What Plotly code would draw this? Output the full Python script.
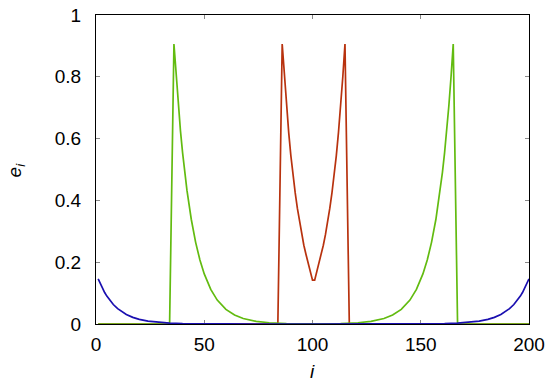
import plotly.graph_objects as go

# Site index values and e_i
blue_i = [1, 2, 3, 4, 5, 6, 8, 10, 12, 14, 17, 20, 24, 28, 34, 40, 50, 60, 100,
          141, 151, 161, 167, 173, 177, 181, 184, 187, 189, 191, 193, 195, 196, 197, 198, 199, 200]
blue_e = [0.146, 0.1295, 0.1149, 0.1019, 0.0903, 0.0801, 0.0631, 0.0496, 0.0390, 0.0307,
          0.0214, 0.0149, 0.0092, 0.0057, 0.0028, 0.0014, 0.0004, 0.0001, 0.0,
          0.0001, 0.0004, 0.0014, 0.0028, 0.0057, 0.0092, 0.0149, 0.0214, 0.0307, 0.0390,
          0.0496, 0.0631, 0.0801, 0.0903, 0.1019, 0.1149, 0.1295, 0.146]

green_i = [1, 34, 36, 37, 38, 39, 40, 41, 42, 44, 46, 48, 50, 53, 56, 60, 64, 68, 74, 80, 88, 100,
           101, 113, 121, 127, 133, 137, 141, 145, 148, 151, 153, 155, 157, 159, 160, 161, 162,
           163, 164, 165, 167, 200]
green_e = [0.0, 0.0, 0.906, 0.801, 0.708, 0.626, 0.554, 0.490, 0.433, 0.339, 0.265, 0.207, 0.162,
           0.112, 0.0774, 0.0474, 0.0289, 0.0177, 0.0085, 0.0040, 0.0015, 0.0004,
           0.0004, 0.0015, 0.0040, 0.0085, 0.0177, 0.0289, 0.0474, 0.0774, 0.112, 0.162, 0.207,
           0.265, 0.339, 0.433, 0.490, 0.554, 0.626, 0.708, 0.801, 0.906, 0.0, 0.0]

red_i = [1, 84, 86, 87, 88, 89, 90, 91, 92, 93, 94, 95, 96, 97, 98, 99, 100,
         101, 102, 103, 104, 105, 106, 107, 108, 109, 110, 111, 112, 113, 114, 115, 117, 200]
red_e = [0.0, 0.0, 0.906, 0.80, 0.705, 0.62, 0.545, 0.48, 0.425, 0.375, 0.33, 0.29, 0.255, 0.225,
         0.195, 0.17, 0.142, 0.142, 0.17, 0.195, 0.225, 0.255, 0.29, 0.33, 0.375, 0.425, 0.48,
         0.545, 0.62, 0.705, 0.80, 0.906, 0.0, 0.0]

x_ticks = [0, 50, 100, 150, 200]
x_tick_text = ["0", "50", "100", "150", "200"]
y_ticks = [0, 0.2, 0.4, 0.6, 0.8, 1]
y_tick_text = ["0", "0.2", "0.4", "0.6", "0.8", "1"]
x_title = "<i>i</i>"
y_title = "<i>e<sub>i</sub></i>"

fig = go.Figure()
fig.add_trace(go.Scatter(x=red_i, y=red_e, mode="lines",
                         line=dict(color="#b8320e", width=1.7)))
fig.add_trace(go.Scatter(x=green_i, y=green_e, mode="lines",
                         line=dict(color="#62bb10", width=1.7)))
fig.add_trace(go.Scatter(x=blue_i, y=blue_e, mode="lines",
                         line=dict(color="#1a0fb0", width=1.7)))

font_family = "Liberation Sans, Arial, sans-serif"
fig.update_layout(
    width=550, height=386,
    margin=dict(l=96, r=21, t=15, b=62),
    paper_bgcolor="white", plot_bgcolor="white",
    showlegend=False,
    font=dict(family=font_family, size=19, color="black"),
    xaxis=dict(range=[0, 200], tickvals=x_ticks, ticktext=x_tick_text,
               showgrid=False, zeroline=False, showline=True, linecolor="black",
               linewidth=1.3, mirror="allticks", ticks="inside", ticklen=4,
               tickcolor="#888888", tickwidth=1, ticklabelstandoff=3,
               layer="below traces", automargin=False),
    yaxis=dict(range=[0, 1], tickvals=y_ticks, ticktext=y_tick_text,
               showgrid=False, zeroline=False, showline=True, linecolor="black",
               linewidth=1.3, mirror="allticks", ticks="inside", ticklen=4,
               tickcolor="#888888", tickwidth=1, ticklabelstandoff=10,
               layer="below traces", automargin=False),
    annotations=[
        dict(text=x_title, xref="paper", yref="paper", x=0.5, y=-0.155,
             xanchor="center", yanchor="middle", showarrow=False,
             font=dict(size=19)),
        dict(text=y_title, xref="paper", yref="paper", x=-0.185, y=0.50,
             xanchor="center", yanchor="middle", showarrow=False, textangle=-90,
             font=dict(size=19)),
    ],
)

fig.write_html("out.html", config={"displayModeBar": False},
               post_script="document.body.style.margin='0';")
